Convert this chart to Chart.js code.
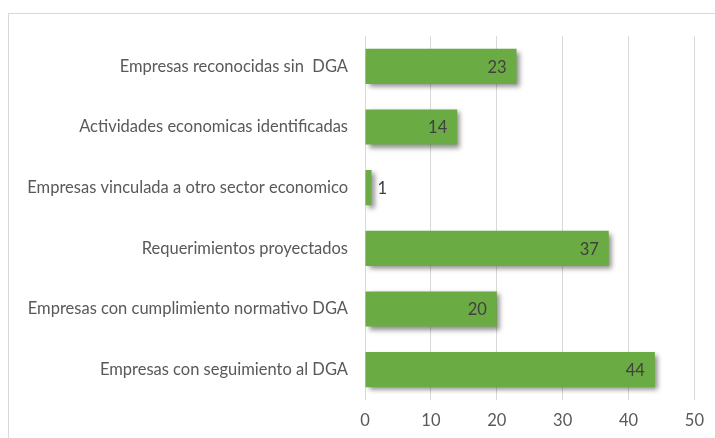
<!DOCTYPE html>
<html>
<head>
<meta charset="utf-8">
<script src="https://cdn.jsdelivr.net/npm/chart.js@4.4.0/dist/chart.umd.min.js"></script>
<style>
  html, body { margin: 0; padding: 0; background: #fff; }
  #wrap { position: relative; width: 715px; height: 438px; overflow: hidden; }
  #frame { position: absolute; left: 8px; top: 13px; width: 720px; height: 440px; border: 1px solid #d9d9d9; box-sizing: border-box; }
  canvas { position: absolute; left: 0; top: 0; }
</style>
</head>
<body>
<div id="wrap">
  <div id="frame"></div>
  <canvas id="chart" width="715" height="438"></canvas>
</div>
<script>
const categories = [
  "Empresas reconocidas sin  DGA",
  "Actividades economicas identificadas",
  "Empresas vinculada a otro sector economico",
  "Requerimientos proyectados",
  "Empresas con cumplimiento normativo DGA",
  "Empresas con seguimiento al DGA"
];
const values = [23, 14, 1, 37, 20, 44];
const xTicks = [0, 10, 20, 30, 40, 50];

const FONT = "Lato, 'Open Sans', sans-serif";

// soft drop shadow under the bars, like the office chart
const barShadow = {
  id: "barShadow",
  beforeDatasetDraw(chart) {
    const ctx = chart.ctx;
    ctx.save();
    ctx.shadowColor = "rgba(0,0,0,0.45)";
    ctx.shadowBlur = 5;
    ctx.shadowOffsetX = 3;
    ctx.shadowOffsetY = 3;
  },
  afterDatasetDraw(chart) {
    chart.ctx.restore();
  }
};

// value labels at the inside end of each bar (outside when the bar is too short)
const valueLabels = {
  id: "valueLabels",
  afterDatasetsDraw(chart) {
    const ctx = chart.ctx;
    const meta = chart.getDatasetMeta(0);
    ctx.save();
    ctx.font = "16.5px " + FONT;
    ctx.fillStyle = "#404040";
    ctx.textBaseline = "middle";
    meta.data.forEach((bar, i) => {
      const txt = String(values[i]);
      const w = ctx.measureText(txt).width;
      const len = bar.x - bar.base;
      if (len > w + 16) {
        ctx.textAlign = "right";
        ctx.fillText(txt, bar.x - 10, bar.y + 1);
      } else {
        ctx.textAlign = "left";
        ctx.fillText(txt, bar.x + 6, bar.y + 1);
      }
    });
    ctx.restore();
  }
};

function greenFill(context) {
  const chart = context.chart;
  const bar = chart.getDatasetMeta(0).data[context.dataIndex];
  if (!bar || bar.height === undefined) return "#6aab43";
  const top = bar.y - bar.height / 2;
  const g = chart.ctx.createLinearGradient(0, top, 0, top + bar.height);
  g.addColorStop(0, "#80bb5f");
  g.addColorStop(0.5, "#6dad45");
  g.addColorStop(1, "#5c9b36");
  return g;
}

new Chart(document.getElementById("chart"), {
  type: "bar",
  data: {
    labels: categories,
    datasets: [{
      data: values,
      backgroundColor: greenFill,
      borderWidth: 0,
      barPercentage: 0.58,
      categoryPercentage: 1.0
    }]
  },
  plugins: [barShadow, valueLabels],
  options: {
    indexAxis: "y",
    responsive: false,
    animation: false,
    layout: { padding: { top: 36, right: 18, bottom: 0, left: 0 } },
    plugins: {
      legend: { display: false },
      tooltip: { enabled: false }
    },
    scales: {
      x: {
        min: 0,
        max: 50,
        afterBuildTicks(scale) {
          scale.ticks = xTicks.map(v => ({ value: v }));
        },
        afterFit(scale) { scale.height = 38; },
        grid: { color: "#d9d9d9", lineWidth: 1, drawTicks: false },
        border: { display: false },
        ticks: {
          padding: 11,
          color: "#595959",
          font: { family: FONT, size: 16.5 }
        }
      },
      y: {
        afterFit(scale) { scale.width = 365; },
        grid: { display: false, drawTicks: false },
        border: { display: false },
        ticks: {
          padding: 17,
          color: "#595959",
          font: { family: FONT, size: 16.5 }
        }
      }
    }
  }
});
</script>
</body>
</html>
